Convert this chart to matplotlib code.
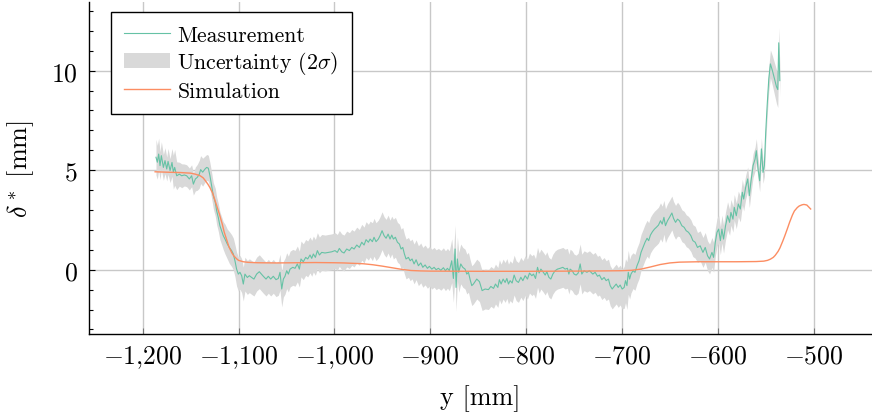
import numpy as np
import matplotlib
matplotlib.use("Agg")
import matplotlib.pyplot as plt
from matplotlib.ticker import MultipleLocator, FuncFormatter
from matplotlib.lines import Line2D
from matplotlib.patches import Patch

plt.rcParams["font.family"] = "cmr10"
plt.rcParams["mathtext.fontset"] = "cm"
plt.rcParams["axes.formatter.use_mathtext"] = True

MEAS_COLOR = "#66c2a5"
SIM_COLOR = "#fc8d62"
BAND_COLOR = "#d9d9d9"

# measured displacement thickness
meas_x = [
    -1186.1, -1184.7, -1183.3, -1181.9, -1180.5, -1178.4, -1176.7, -1174.9,
    -1173.5, -1171.4, -1169.4, -1168.0, -1166.6, -1164.5, -1161.7, -1159.3,
    -1156.5, -1154.1, -1151.3, -1148.9, -1147.1, -1145.0, -1143.0, -1140.9,
    -1139.5, -1137.4, -1134.9, -1133.2, -1131.5, -1129.8, -1128.0, -1126.3,
    -1124.2, -1122.8, -1121.1, -1119.4, -1117.6, -1115.9, -1114.1, -1111.7,
    -1109.6, -1107.2, -1105.4, -1103.7, -1102.0, -1100.2, -1098.5, -1096.7,
    -1095.0, -1093.3, -1090.8, -1088.7, -1086.3, -1083.9, -1081.1, -1078.3,
    -1074.1, -1071.3, -1068.9, -1066.4, -1063.7, -1060.9, -1058.5, -1056.7,
    -1054.9, -1053.2, -1051.5, -1049.7, -1048.0, -1046.2, -1043.4, -1041.0,
    -1038.6, -1036.5, -1034.8, -1032.4, -1029.9, -1027.8, -1025.4, -1023.6,
    -1021.9, -1019.8, -1017.7, -1015.6, -1013.2, -1009.7, -1006.3, -1002.7,
    -999.3, -996.9, -994.8, -992.3, -989.9, -987.1, -984.3, -981.8,
    -979.4, -976.6, -973.9, -971.4, -969.0, -966.9, -964.5, -962.7,
    -960.3, -958.6, -956.5, -954.1, -952.3, -950.2, -948.1, -946.0,
    -943.9, -941.9, -940.1, -938.4, -936.3, -934.2, -932.1, -930.4,
    -928.6, -926.9, -925.2, -922.7, -920.9, -918.9, -916.8, -914.7,
    -912.3, -909.8, -907.7, -905.3, -902.9, -900.8, -898.3, -895.9,
    -893.8, -891.4, -888.9, -886.2, -884.1, -882.0, -880.0, -877.5,
    -875.8, -874.0, -873.0, -871.6, -870.2, -868.1, -866.0, -863.6,
    -861.8, -860.1, -858.3, -856.6, -854.9, -851.4, -848.6, -845.8,
    -842.7, -839.2, -836.7, -833.9, -831.9, -829.4, -827.8, -826.0,
    -823.9, -821.8, -820.0, -818.3, -816.6, -814.5, -812.4, -810.3,
    -807.9, -805.4, -803.3, -800.9, -798.5, -796.4, -793.9, -792.2,
    -790.1, -788.0, -786.3, -784.5, -782.4, -780.0, -778.3, -776.2,
    -774.1, -772.0, -769.6, -767.2, -764.4, -761.6, -759.2, -756.8,
    -755.3, -754.0, -751.9, -749.8, -747.7, -745.6, -743.5, -741.8,
    -739.4, -736.5, -733.8, -730.3, -727.9, -725.4, -723.4, -720.9,
    -718.5, -716.4, -714.0, -712.2, -710.1, -708.0, -705.9, -703.8,
    -701.8, -699.7, -697.6, -696.2, -694.7, -693.3, -691.9, -690.5,
    -688.4, -686.3, -684.2, -682.1, -680.0, -677.9, -675.8, -673.7,
    -672.0, -670.2, -668.1, -666.0, -664.0, -661.8, -659.7, -657.9,
    -656.1, -654.5, -652.4, -650.3, -647.8, -646.1, -644.0, -641.9,
    -639.9, -637.4, -635.0, -632.9, -630.5, -628.0, -625.9, -623.5,
    -621.1, -618.3, -615.4, -613.0, -610.6, -608.5, -606.0, -604.3,
    -602.5, -600.7, -599.0, -597.2, -595.6, -593.9, -591.8, -589.7,
    -587.6, -586.2, -584.1, -582.7, -580.6, -578.5, -576.4, -574.3,
    -572.9, -570.8, -568.7, -567.0, -565.2, -563.1, -561.0, -559.7,
    -557.9, -556.2, -554.4, -552.7, -551.3, -549.9, -548.4, -546.7,
    -545.0, -542.9, -540.8, -538.7, -537.3, -536.3, -535.2,
]
meas_y = [
    5.65, 5.40, 5.81, 5.23, 5.73, 5.14, 5.48, 5.06,
    5.44, 4.98, 5.39, 4.90, 5.14, 4.72, 4.80, 4.72,
    4.76, 4.72, 4.56, 4.72, 4.30, 4.56, 4.64, 4.80,
    5.03, 4.90, 5.06, 5.14, 5.10, 4.72, 4.22, 3.72,
    3.38, 2.96, 2.63, 2.21, 1.96, 1.71, 1.54, 1.29,
    1.12, 0.96, 0.79, 0.45, 0.03, -0.22, -0.13, -0.30,
    -0.72, -0.22, -0.39, -0.30, -0.39, -0.47, -0.22, -0.10,
    -0.33, -0.47, -0.33, -0.47, -0.33, -0.50, -0.44, -0.13,
    -0.97, -0.47, -0.33, -0.05, -0.22, 0.03, 0.12, 0.07,
    0.29, 0.03, 0.54, 0.40, 0.62, 0.54, 0.74, 0.57,
    0.79, 0.62, 0.96, 0.74, 0.87, 0.84, 0.87, 0.90,
    0.96, 0.87, 1.07, 0.90, 0.84, 1.04, 0.96, 1.12,
    1.04, 1.24, 1.12, 1.38, 1.24, 1.51, 1.38, 1.54,
    1.41, 1.63, 1.41, 1.54, 1.71, 1.96, 1.71, 1.58,
    1.79, 1.54, 1.74, 1.54, 1.63, 1.38, 1.29, 1.04,
    1.12, 0.79, 0.54, 0.62, 0.45, 0.54, 0.29, 0.50,
    0.20, 0.34, 0.12, 0.24, 0.07, 0.17, 0.03, 0.12,
    0.00, 0.07, -0.03, 0.10, -0.05, 0.07, -0.05, 0.45,
    -0.44, 1.04, -0.89, 0.54, -0.13, 0.29, 0.12, 0.03,
    -0.22, -0.13, -0.50, -0.80, -0.72, -0.47, -0.60, -1.05,
    -0.97, -1.00, -0.84, -0.94, -0.72, -0.89, -0.50, -0.72,
    -0.47, -0.64, -0.44, -0.72, -0.55, -0.67, -0.27, -0.55,
    -0.64, -0.38, -0.55, -0.30, -0.47, -0.17, -0.30, -0.22,
    -0.44, 0.12, -0.17, 0.03, -0.10, -0.27, -0.10, -0.38,
    -0.47, -0.22, -0.05, 0.03, 0.07, 0.12, 0.03, 0.07,
    -0.22, 0.03, -0.05, -0.22, -0.27, -0.17, 0.29, -0.22,
    -0.05, -0.13, -0.05, -0.22, -0.13, -0.33, -0.27, -0.50,
    -0.39, -0.55, -0.47, -0.80, -0.97, -0.84, -0.72, -0.89,
    -0.77, -0.97, -0.89, -0.55, -0.80, -0.13, -0.47, -0.22,
    -0.05, -0.13, 0.20, 0.45, 0.87, 1.12, 1.38, 1.58,
    1.46, 1.74, 1.91, 2.04, 2.13, 2.24, 2.46, 2.29,
    2.63, 2.21, 2.46, 2.63, 2.85, 2.58, 2.38, 2.54,
    2.46, 2.21, 2.13, 1.96, 1.88, 1.71, 1.46, 1.38,
    1.12, 1.20, 0.87, 1.12, 0.70, 0.54, 0.87, 0.62,
    1.38, 1.88, 2.04, 1.46, 2.04, 1.54, 2.21, 2.71,
    2.38, 2.88, 2.54, 3.13, 2.71, 3.30, 3.05, 3.89,
    3.55, 4.14, 4.56, 3.72, 4.47, 5.23, 5.56, 5.98,
    5.06, 4.47, 6.07, 4.89, 5.23, 6.90, 8.24, 9.58,
    10.34, 10.00, 9.60, 9.20, 9.05, 11.40, 9.50,
]
# half width of the 2 sigma band
meas_unc = [
    0.90, 0.85, 0.80, 0.70, 0.70, 0.65, 0.65, 0.60,
    0.65, 0.60, 0.70, 0.85, 0.90, 0.70, 0.60, 0.60,
    0.55, 0.55, 0.55, 0.55, 0.55, 0.60, 0.65, 0.70,
    0.70, 0.70, 0.65, 0.65, 0.65, 0.65, 0.65, 0.65,
    0.70, 0.70, 0.70, 0.70, 0.70, 0.70, 0.75, 0.75,
    0.80, 0.80, 0.80, 0.80, 0.85, 0.85, 0.85, 0.85,
    0.85, 0.85, 0.85, 0.85, 0.85, 0.85, 0.85, 0.85,
    0.85, 0.85, 0.85, 0.85, 0.85, 0.85, 0.85, 0.90,
    0.90, 0.90, 0.90, 0.90, 0.90, 0.90, 0.90, 0.90,
    0.90, 0.90, 0.90, 0.90, 0.90, 0.90, 0.90, 0.90,
    0.90, 0.90, 0.90, 0.90, 0.90, 0.90, 0.90, 0.90,
    0.90, 0.90, 0.90, 0.90, 0.90, 0.90, 0.90, 0.90,
    0.90, 0.90, 0.90, 0.90, 0.90, 0.90, 0.90, 0.90,
    0.95, 0.95, 0.95, 0.95, 0.95, 0.95, 0.95, 0.95,
    0.95, 0.95, 0.95, 1.00, 1.00, 1.00, 1.00, 1.00,
    1.00, 1.00, 1.00, 1.00, 1.00, 1.00, 1.00, 1.00,
    1.00, 1.00, 1.00, 1.00, 1.00, 1.00, 1.00, 1.00,
    1.00, 1.00, 1.00, 1.00, 1.00, 1.00, 1.00, 1.10,
    1.20, 1.20, 1.20, 1.10, 1.00, 1.00, 1.00, 1.00,
    1.00, 1.00, 1.00, 1.00, 1.00, 1.00, 1.00, 1.00,
    1.00, 1.00, 1.00, 1.00, 1.00, 1.00, 1.00, 1.00,
    1.00, 1.00, 1.00, 1.00, 1.00, 1.00, 1.00, 1.00,
    1.00, 1.00, 1.00, 1.00, 1.00, 1.00, 1.00, 1.00,
    1.00, 1.00, 1.00, 1.00, 1.00, 1.00, 1.00, 1.00,
    1.00, 1.00, 1.00, 1.00, 1.00, 1.00, 1.00, 1.00,
    1.00, 1.00, 1.00, 1.00, 1.00, 1.00, 1.00, 1.00,
    1.00, 1.00, 1.00, 1.00, 1.00, 1.00, 1.00, 1.00,
    1.00, 1.00, 1.00, 1.00, 1.00, 1.00, 1.00, 1.00,
    1.00, 1.00, 1.05, 1.10, 1.20, 1.10, 1.00, 0.95,
    0.90, 0.90, 0.90, 0.90, 0.90, 0.90, 0.90, 0.90,
    0.90, 0.90, 0.90, 0.90, 0.90, 0.90, 0.90, 0.90,
    0.85, 0.85, 0.85, 0.85, 0.85, 0.85, 0.85, 0.85,
    0.80, 0.80, 0.80, 0.80, 0.80, 0.80, 0.80, 0.80,
    0.75, 0.75, 0.75, 0.75, 0.75, 0.75, 0.75, 0.75,
    0.70, 0.70, 0.70, 0.70, 0.70, 0.70, 0.70, 0.70,
    0.65, 0.65, 0.65, 0.65, 0.65, 0.65, 0.65, 0.65,
    0.60, 0.60, 0.60, 0.60, 0.60, 0.60, 0.60, 0.60,
    0.55, 0.55, 0.55, 0.55, 0.55, 0.55, 0.55, 0.60,
    0.70, 0.75, 0.80, 0.85, 0.90, 0.75, 0.80,
]

# simulation
sim_x = [
    -1187, -1175, -1160, -1150, -1145, -1140, -1137, -1135, -1132, -1130,
    -1127, -1125, -1122, -1120, -1117, -1115, -1112, -1110, -1107, -1105,
    -1102, -1100, -1095, -1090, -1080, -1060, -1040, -1020, -1000, -990,
    -980, -970, -960, -950, -940, -930, -920, -910, -900, -850,
    -800, -750, -720, -700, -690, -680, -670, -660, -650, -640,
    -620, -600, -580, -560, -552, -548, -545, -542, -540, -537,
    -535, -532, -530, -527, -525, -522, -520, -517, -515, -512,
    -510, -507, -505, -503,
]
sim_y = [
    4.92, 4.90, 4.88, 4.85, 4.80, 4.72, 4.62, 4.50, 4.30, 4.14,
    3.85, 3.55, 3.10, 2.80, 2.30, 1.90, 1.45, 1.15, 0.85, 0.70,
    0.55, 0.47, 0.40, 0.37, 0.35, 0.34, 0.35, 0.36, 0.35, 0.34,
    0.32, 0.30, 0.25, 0.18, 0.10, 0.02, -0.04, -0.06, -0.07, -0.08,
    -0.08, -0.07, -0.06, -0.05, -0.03, 0.03, 0.14, 0.26, 0.34, 0.38,
    0.40, 0.40, 0.40, 0.41, 0.43, 0.47, 0.53, 0.62, 0.72, 0.92,
    1.10, 1.45, 1.70, 2.10, 2.38, 2.75, 2.95, 3.12, 3.20, 3.26,
    3.28, 3.25, 3.15, 3.05,
]

x_ticks = [-1200, -1100, -1000, -900, -800, -700, -600, -500]
y_ticks = [0, 5, 10]

assert len(meas_x) == len(meas_y) == len(meas_unc)
mx = np.array(meas_x)
my = np.array(meas_y)
mu = np.array(meas_unc)

fig = plt.figure(figsize=(8.72, 4.14), dpi=100)
ax = fig.add_axes([89 / 872, 1 - 335 / 414, 783 / 872, 332 / 414])

ax.fill_between(mx, my - mu, my + mu, color=BAND_COLOR, lw=0, zorder=2)
ax.plot(mx, my, color=MEAS_COLOR, lw=0.8, zorder=3)
ax.plot(sim_x, sim_y, color=SIM_COLOR, lw=1.0, zorder=4)

ax.set_xlim(-1256, -439)
ax.set_ylim(-3.23, 13.45)
ax.set_xticks(x_ticks)
ax.set_yticks(y_ticks)
ax.yaxis.set_minor_locator(MultipleLocator(1))

fmt = FuncFormatter(lambda v, p: "$" + f"{v:,.0f}".replace(",", "{,}") + "$")
ax.xaxis.set_major_formatter(fmt)
ax.yaxis.set_major_formatter(fmt)

ax.grid(True, which="major", color="#c8c8c8", lw=1.0)
ax.set_axisbelow(True)
for s in ["top", "right"]:
    ax.spines[s].set_visible(False)
for s in ["left", "bottom"]:
    ax.spines[s].set_linewidth(1.0)
    ax.spines[s].set_color("black")

ax.tick_params(axis="x", direction="in", length=4, width=0.8, color="#777777",
               labelsize=18.5, pad=7)
ax.tick_params(axis="y", which="major", direction="in", length=4, width=0.8,
               labelsize=18.5, pad=8)
ax.tick_params(axis="y", which="minor", direction="in", length=3, width=0.8)

ax.set_xlabel("y [mm]", fontsize=18.8, labelpad=10)
ax.set_ylabel(r"$\delta^*$ [mm]", fontsize=18.8, labelpad=11)

handles = [
    Line2D([], [], color=MEAS_COLOR, lw=0.8),
    Patch(facecolor=BAND_COLOR, edgecolor="none"),
    Line2D([], [], color=SIM_COLOR, lw=1.0),
]
labels = ["Measurement", r"Uncertainty ($2\sigma$)", "Simulation"]
leg = ax.legend(handles, labels, loc="upper left", bbox_to_anchor=(0.028, 0.97),
                borderaxespad=0, fontsize=15.7, frameon=True, fancybox=False,
                framealpha=1, edgecolor="black", handlelength=2.1,
                handletextpad=0.35, labelspacing=0.22, borderpad=0.6)
leg.get_frame().set_linewidth(1.0)

fig.savefig("out.png", dpi=100)
